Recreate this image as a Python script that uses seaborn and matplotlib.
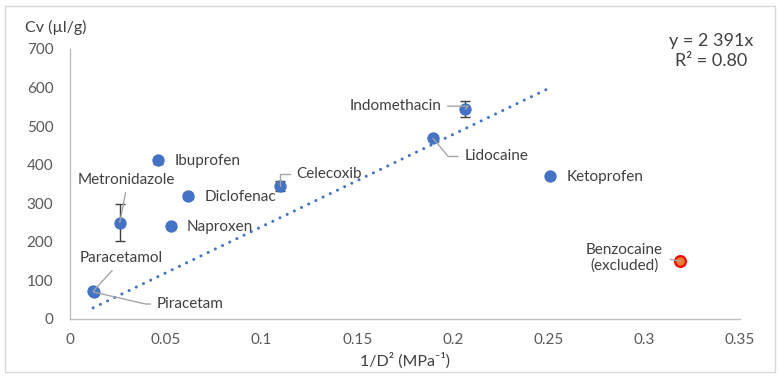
import numpy as np
import matplotlib
matplotlib.use("Agg")
import matplotlib.pyplot as plt
import seaborn as sns
import pandas as pd
from matplotlib.patches import Rectangle

# data
drugs = ["Paracetamol", "Piracetam", "Metronidazole", "Ibuprofen", "Naproxen",
         "Diclofenac", "Celecoxib", "Lidocaine", "Indomethacin", "Ketoprofen"]
inv_d2 = [0.0121, 0.0123, 0.026, 0.0462, 0.0526, 0.0616, 0.1099, 0.1897, 0.2066, 0.2505]
cv = [72, 70, 250, 411, 242, 319, 345, 468, 544, 371]
cv_err = [0, 0, 48, 10, 0, 8, 12, 0, 20, 0]

excl_name = "Benzocaine\n(excluded)"
excl_x = [0.3189]
excl_y = [150]

slope = 2391
r2 = 0.80

BLUE = "#4472C4"
TXT = "#404040"
LEAD = "#A6A6A6"

# label placement: (dx, dy) offset in pixels, ha, leader (relpos, connectionstyle) or None
label_style = {
    "Paracetamol": (28, 33, "center", ((0.45, 0), "arc3")),
    "Piracetam": (63, -12, "left", ((0, 0.5), "angle,angleA=180,angleB=-13,rad=0")),
    "Metronidazole": (7, 43, "center", ((0.5, 0), "arc3")),
    "Ibuprofen": (16, -1, "left", None),
    "Naproxen": (16, -1, "left", None),
    "Diclofenac": (17, -1, "left", None),
    "Celecoxib": (16, 12, "left", ((0, 0.5), "angle,angleA=180,angleB=90,rad=0")),
    "Lidocaine": (31, -18, "left", ((0, 0.5), "angle,angleA=180,angleB=-50,rad=0")),
    "Indomethacin": (-24, 3, "right", ((1, 0.5), "angle,angleA=0,angleB=50,rad=0")),
    "Ketoprofen": (17, -1, "left", None),
}

df = pd.DataFrame({"drug": drugs, "x": inv_d2, "cv": cv, "err": cv_err})

sns.set_theme(style="white")
plt.rcParams["font.family"] = ["Lato", "DejaVu Sans"]

fig = plt.figure(figsize=(7.8, 3.78), dpi=100)
ax = fig.add_axes([70 / 780, 1 - 319 / 378, 670 / 780, 270 / 378])

# error bars
ax.errorbar(df["x"], df["cv"], yerr=df["err"], fmt="none", ecolor=TXT,
            elinewidth=1.0, capsize=3.5, capthick=1.0, zorder=2)
sns.scatterplot(data=df, x="x", y="cv", ax=ax, color=BLUE, s=65,
                edgecolor=BLUE, linewidth=0.8, zorder=3, legend=False)
sns.scatterplot(x=excl_x, y=excl_y, ax=ax, color="#ED7D31", s=60,
                edgecolor="#FF0000", linewidth=1.6, zorder=3, legend=False)

# trendline through origin
tx = np.array([min(inv_d2), max(inv_d2)])
ax.plot(tx, slope * tx, color=BLUE, linewidth=2.2,
        linestyle=(0, (0.01, 2.6)), dash_capstyle="round", zorder=1)

for name, xv, yv in zip(drugs, inv_d2, cv):
    dx, dy, ha, lead = label_style[name]
    kw = {}
    if lead is not None:
        kw["arrowprops"] = dict(arrowstyle="-", color=LEAD, lw=1.0,
                                relpos=lead[0], connectionstyle=lead[1],
                                shrinkA=2, shrinkB=0)
    ax.annotate(name, (xv, yv), xytext=(dx, dy), textcoords="offset pixels",
                ha=ha, va="center", fontsize=11, color=TXT, zorder=4, **kw)

ax.annotate(excl_name, (excl_x[0], excl_y[0]), xytext=(-56, 3),
            textcoords="offset pixels", ha="center", va="center",
            fontsize=11, color=TXT, linespacing=1.15, zorder=4,
            arrowprops=dict(arrowstyle="-", color=LEAD, lw=1.0, relpos=(1, 0.5),
                            shrinkA=3, shrinkB=0))

ax.set_xlim(0, 0.35)
ax.set_ylim(0, 700)
ax.set_xticks([0, 0.05, 0.1, 0.15, 0.2, 0.25, 0.3, 0.35])
ax.set_xticklabels(["0", "0.05", "0.1", "0.15", "0.2", "0.25", "0.3", "0.35"])
ax.set_yticks(range(0, 701, 100))
ax.tick_params(axis="both", length=0, labelsize=11, labelcolor="#595959")
ax.tick_params(axis="y", pad=12)
ax.tick_params(axis="x", pad=10)
for side in ["top", "right"]:
    ax.spines[side].set_visible(False)
for side in ["left", "bottom"]:
    ax.spines[side].set_color("#BFBFBF")
    ax.spines[side].set_linewidth(1.0)

ax.set_xlabel("1/D² (MPa⁻¹)", fontsize=11.5, color=TXT, labelpad=4)
ax.set_ylabel("")
fig.text(25 / 780, 1 - 27 / 378, "Cv (µl/g)", ha="left", va="center",
         fontsize=11.5, color=TXT)
fig.text(711 / 780, 1 - 51 / 378, f"y = 2 391x\nR² = {r2:.2f}", ha="center",
         va="center", fontsize=13, color=TXT, linespacing=1.25)

fig.patches.append(Rectangle((5 / 780, 6 / 378), 770 / 780, 366 / 378,
                             transform=fig.transFigure, fill=False,
                             edgecolor="#D9D9D9", linewidth=1.0))

fig.savefig("out.png", dpi=100)
plt.close(fig)
